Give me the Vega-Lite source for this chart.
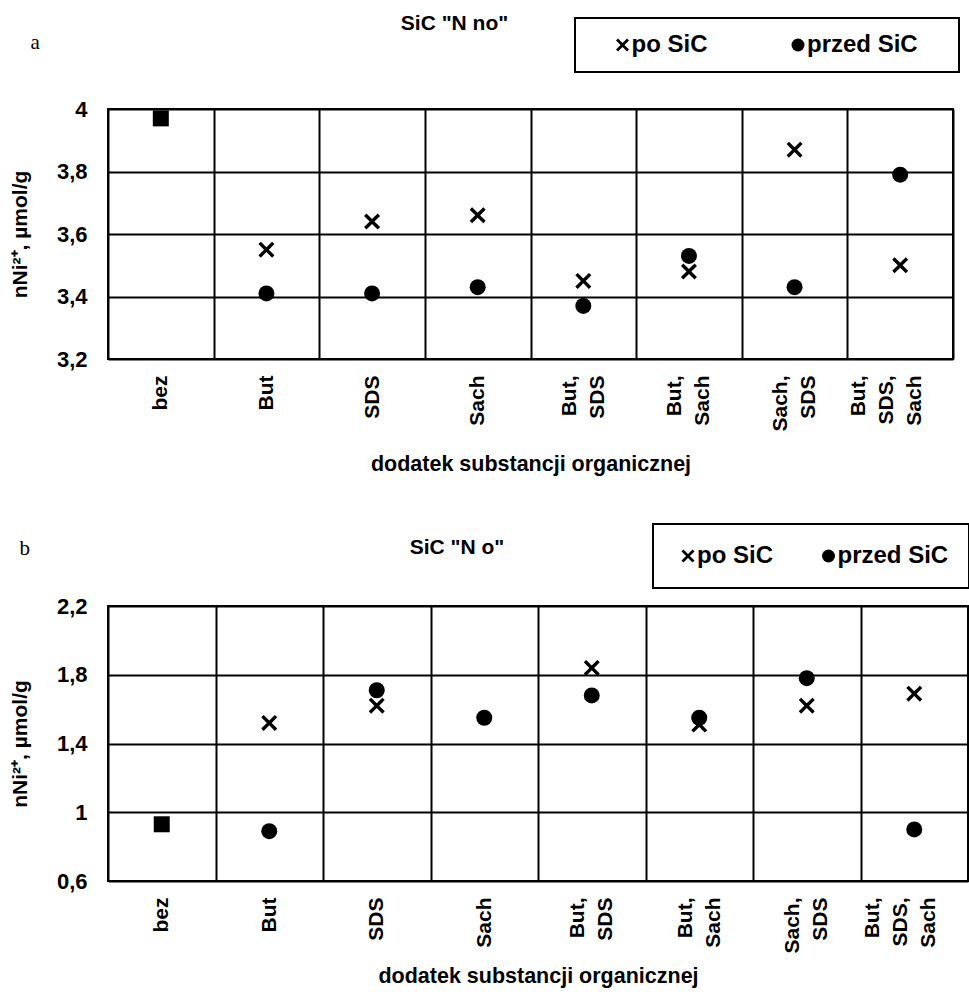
{
  "$schema": "https://vega.github.io/schema/vega-lite/v6.json",
  "padding": {"left": 8, "top": 12, "right": 0, "bottom": 0},
  "background": "white",
  "datasets": {
    "nikiel": [
      {"panel": "a", "kategoria": "bez", "seria": "bez dodatków", "n": 3.97},
      {"panel": "a", "kategoria": "But", "seria": "po SiC", "n": 3.55},
      {"panel": "a", "kategoria": "But", "seria": "przed SiC", "n": 3.41},
      {"panel": "a", "kategoria": "SDS", "seria": "po SiC", "n": 3.64},
      {"panel": "a", "kategoria": "SDS", "seria": "przed SiC", "n": 3.41},
      {"panel": "a", "kategoria": "Sach", "seria": "po SiC", "n": 3.66},
      {"panel": "a", "kategoria": "Sach", "seria": "przed SiC", "n": 3.43},
      {"panel": "a", "kategoria": "But, SDS", "seria": "po SiC", "n": 3.45},
      {"panel": "a", "kategoria": "But, SDS", "seria": "przed SiC", "n": 3.37},
      {"panel": "a", "kategoria": "But, Sach", "seria": "po SiC", "n": 3.48},
      {"panel": "a", "kategoria": "But, Sach", "seria": "przed SiC", "n": 3.53},
      {"panel": "a", "kategoria": "Sach, SDS", "seria": "po SiC", "n": 3.87},
      {"panel": "a", "kategoria": "Sach, SDS", "seria": "przed SiC", "n": 3.43},
      {"panel": "a", "kategoria": "But, SDS, Sach", "seria": "po SiC", "n": 3.5},
      {"panel": "a", "kategoria": "But, SDS, Sach", "seria": "przed SiC", "n": 3.79},
      {"panel": "b", "kategoria": "bez", "seria": "bez dodatków", "n": 0.93},
      {"panel": "b", "kategoria": "But", "seria": "po SiC", "n": 1.52},
      {"panel": "b", "kategoria": "But", "seria": "przed SiC", "n": 0.89},
      {"panel": "b", "kategoria": "SDS", "seria": "po SiC", "n": 1.62},
      {"panel": "b", "kategoria": "SDS", "seria": "przed SiC", "n": 1.71},
      {"panel": "b", "kategoria": "Sach", "seria": "przed SiC", "n": 1.55},
      {"panel": "b", "kategoria": "But, SDS", "seria": "po SiC", "n": 1.84},
      {"panel": "b", "kategoria": "But, SDS", "seria": "przed SiC", "n": 1.68},
      {"panel": "b", "kategoria": "But, Sach", "seria": "po SiC", "n": 1.51},
      {"panel": "b", "kategoria": "But, Sach", "seria": "przed SiC", "n": 1.55},
      {"panel": "b", "kategoria": "Sach, SDS", "seria": "po SiC", "n": 1.62},
      {"panel": "b", "kategoria": "Sach, SDS", "seria": "przed SiC", "n": 1.78},
      {"panel": "b", "kategoria": "But, SDS, Sach", "seria": "po SiC", "n": 1.69},
      {"panel": "b", "kategoria": "But, SDS, Sach", "seria": "przed SiC", "n": 0.9}
    ]
  },
  "resolve": {"scale": {"shape": "independent"}, "legend": {"shape": "independent"}},
  "vconcat": [
    {
      "title": {"text": "a", "anchor": "start", "frame": "bounds", "font": "Liberation Serif", "fontSize": 21, "fontWeight": "normal", "offset": -41, "dx": 22},
      "vconcat": [
        {
          "width": 845,
          "height": 250,
          "title": {"text": "SiC \"N no\"", "dx": -76, "offset": 64},
          "data": {"name": "nikiel"},
          "transform": [{"filter": "datum.panel === 'a'"}],
          "mark": {"type": "point", "filled": true, "color": "black", "opacity": 1, "size": 256},
          "encoding": {
            "x": {
              "field": "kategoria", "type": "nominal",
              "sort": ["bez", "But", "SDS", "Sach", "But, SDS", "But, Sach", "Sach, SDS", "But, SDS, Sach"],
              "scale": {"paddingInner": 0, "paddingOuter": 0},
              "axis": {
                "title": "dodatek substancji organicznej", "labelAngle": -90, "labelExpr": "split(datum.label, ' ')",
                "labelOffset": {"condition": [{"test": "length(split(datum.value, ' ')) === 3", "value": -42}, {"test": "length(split(datum.value, ' ')) === 2", "value": -14}], "value": 0},
                "labelPadding": 16, "titlePadding": 22, "grid": true, "tickBand": "extent"
              }
            },
            "y": {
              "field": "n", "type": "quantitative",
              "scale": {"domain": [3.2, 4], "nice": false, "zero": false},
              "axis": {"title": "nNi²⁺, µmol/g", "values": [3.2, 3.4, 3.6, 3.8, 4], "labelExpr": "replace(format(datum.value, '.1~f'), '.', ',')", "labelPadding": 21, "titlePadding": 26, "grid": true}
            },
            "shape": {
              "field": "seria", "type": "nominal",
              "scale": {"domain": ["po SiC", "przed SiC", "bez dodatków"], "range": ["M-1,-0.7L-0.7,-1L0,-0.3L0.7,-1L1,-0.7L0.3,0L1,0.7L0.7,1L0,0.3L-0.7,1L-1,0.7L-0.3,0Z", "circle", "square"]},
              "legend": {"values": ["po SiC", "przed SiC"], "legendX": 467, "legendY": -91, "padding": 15, "symbolOffset": 20.5, "labelOffset": -3, "columnPadding": 57.5, "title": " ", "titleOrient": "right", "titlePadding": 26}
            }
          }
        }
      ]
    },
    {
      "title": {"text": "b", "anchor": "start", "frame": "bounds", "font": "Liberation Serif", "fontSize": 21, "fontWeight": "normal", "offset": -36, "dx": 11},
      "vconcat": [
        {
          "width": 860,
          "height": 275,
          "title": {"text": "SiC \"N o\"", "dx": -81, "offset": 37},
          "data": {"name": "nikiel"},
          "transform": [{"filter": "datum.panel === 'b'"}],
          "mark": {"type": "point", "filled": true, "color": "black", "opacity": 1, "size": 256},
          "encoding": {
            "x": {
              "field": "kategoria", "type": "nominal",
              "sort": ["bez", "But", "SDS", "Sach", "But, SDS", "But, Sach", "Sach, SDS", "But, SDS, Sach"],
              "scale": {"paddingInner": 0, "paddingOuter": 0},
              "axis": {
                "title": "dodatek substancji organicznej", "labelAngle": -90, "labelExpr": "split(datum.label, ' ')",
                "labelOffset": {"condition": [{"test": "length(split(datum.value, ' ')) === 3", "value": -42}, {"test": "length(split(datum.value, ' ')) === 2", "value": -14}], "value": 0},
                "labelPadding": 16, "titlePadding": 12, "grid": true, "tickBand": "extent"
              }
            },
            "y": {
              "field": "n", "type": "quantitative",
              "scale": {"domain": [0.6, 2.2], "nice": false, "zero": false},
              "axis": {"title": "nNi²⁺, µmol/g", "values": [0.6, 1, 1.4, 1.8, 2.2], "labelExpr": "replace(format(datum.value, '.1~f'), '.', ',')", "labelPadding": 21, "titlePadding": 26, "grid": true}
            },
            "shape": {
              "field": "seria", "type": "nominal",
              "scale": {"domain": ["po SiC", "przed SiC", "bez dodatków"], "range": ["M-1,-0.7L-0.7,-1L0,-0.3L0.7,-1L1,-0.7L0.3,0L1,0.7L0.7,1L0,0.3L-0.7,1L-1,0.7L-0.3,0Z", "circle", "square"]},
              "legend": {"values": ["po SiC", "przed SiC"], "legendX": 545, "legendY": -82, "padding": 20, "symbolOffset": 3, "labelOffset": -3, "columnPadding": 40.5}
            }
          }
        }
      ]
    }
  ],
  "spacing": 47,
  "config": {
    "font": "Liberation Sans",
    "view": {"stroke": "black", "strokeWidth": 2},
    "axis": {
      "labelColor": "black", "titleColor": "black", "labelFontSize": 22, "labelFontWeight": "bold", "titleFontSize": 21,
      "titleFontWeight": "bold", "domain": false, "ticks": false,
      "gridColor": "black", "gridWidth": 2, "gridOpacity": 1, "labelOverlap": false, "labelLimit": 300
    },
    "axisX": {"labelFontSize": 21, "labelLineHeight": 28, "labelBound": false, "titleFontSize": 21.5},
    "legend": {
      "orient": "none", "direction": "horizontal", "title": null,
      "strokeColor": "black", "strokeWidth": 2,
      "labelFontSize": 24, "labelFontWeight": "bold", "labelColor": "black",
      "symbolSize": 169, "symbolStrokeWidth": 0
    },
    "title": {"fontSize": 21, "fontWeight": "bold", "color": "black"}
  }
}
